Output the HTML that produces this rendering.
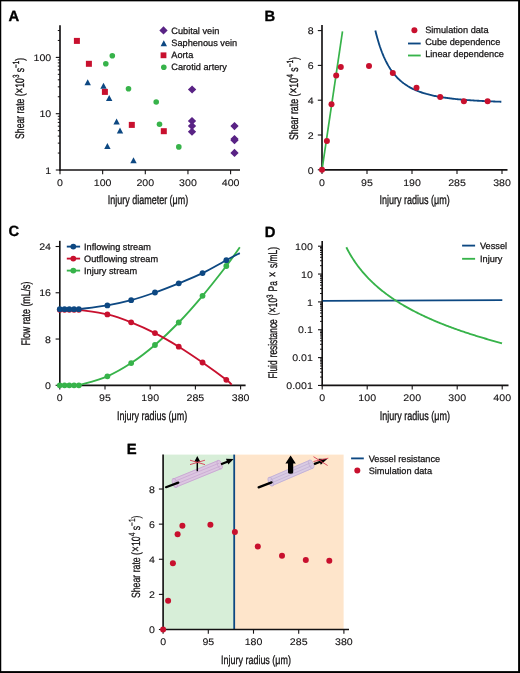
<!DOCTYPE html>
<html><head><meta charset="utf-8"><style>
html,body{margin:0;padding:0;background:#fff;}
svg{display:block;will-change:transform;text-rendering:geometricPrecision;font-family:"Liberation Sans",sans-serif;}
</style></head><body>
<svg width="520" height="673" viewBox="0 0 520 673">
<rect width="520" height="673" fill="#fff"/>
<text x="8.40" y="20.70" font-size="14.8" font-weight="bold" fill="#000" stroke="#000" stroke-width="0.35">A</text>
<line x1="60.00" y1="25.20" x2="60.00" y2="170.70" stroke="#141213" stroke-width="1.65" stroke-linecap="butt"/>
<line x1="59.30" y1="170.00" x2="240.00" y2="170.00" stroke="#141213" stroke-width="1.65" stroke-linecap="butt"/>
<line x1="55.80" y1="170.00" x2="60.00" y2="170.00" stroke="#141213" stroke-width="1.1" stroke-linecap="butt"/>
<text transform="translate(51.20,173.70) scale(1.115,1)" x="0" y="0" font-size="9.5" text-anchor="end" fill="#141213" stroke="#141213" stroke-width="0.1">1</text>
<line x1="55.80" y1="113.70" x2="60.00" y2="113.70" stroke="#141213" stroke-width="1.1" stroke-linecap="butt"/>
<text transform="translate(51.20,117.40) scale(1.115,1)" x="0" y="0" font-size="9.5" text-anchor="end" fill="#141213" stroke="#141213" stroke-width="0.1">10</text>
<line x1="55.80" y1="57.40" x2="60.00" y2="57.40" stroke="#141213" stroke-width="1.1" stroke-linecap="butt"/>
<text transform="translate(51.20,61.10) scale(1.115,1)" x="0" y="0" font-size="9.5" text-anchor="end" fill="#141213" stroke="#141213" stroke-width="0.1">100</text>
<line x1="57.80" y1="153.05" x2="60.00" y2="153.05" stroke="#141213" stroke-width="1.0" stroke-linecap="butt"/>
<line x1="57.80" y1="143.14" x2="60.00" y2="143.14" stroke="#141213" stroke-width="1.0" stroke-linecap="butt"/>
<line x1="57.80" y1="136.10" x2="60.00" y2="136.10" stroke="#141213" stroke-width="1.0" stroke-linecap="butt"/>
<line x1="57.80" y1="130.65" x2="60.00" y2="130.65" stroke="#141213" stroke-width="1.0" stroke-linecap="butt"/>
<line x1="57.80" y1="126.19" x2="60.00" y2="126.19" stroke="#141213" stroke-width="1.0" stroke-linecap="butt"/>
<line x1="57.80" y1="122.42" x2="60.00" y2="122.42" stroke="#141213" stroke-width="1.0" stroke-linecap="butt"/>
<line x1="57.80" y1="119.16" x2="60.00" y2="119.16" stroke="#141213" stroke-width="1.0" stroke-linecap="butt"/>
<line x1="57.80" y1="116.28" x2="60.00" y2="116.28" stroke="#141213" stroke-width="1.0" stroke-linecap="butt"/>
<line x1="57.80" y1="96.75" x2="60.00" y2="96.75" stroke="#141213" stroke-width="1.0" stroke-linecap="butt"/>
<line x1="57.80" y1="86.84" x2="60.00" y2="86.84" stroke="#141213" stroke-width="1.0" stroke-linecap="butt"/>
<line x1="57.80" y1="79.80" x2="60.00" y2="79.80" stroke="#141213" stroke-width="1.0" stroke-linecap="butt"/>
<line x1="57.80" y1="74.35" x2="60.00" y2="74.35" stroke="#141213" stroke-width="1.0" stroke-linecap="butt"/>
<line x1="57.80" y1="69.89" x2="60.00" y2="69.89" stroke="#141213" stroke-width="1.0" stroke-linecap="butt"/>
<line x1="57.80" y1="66.12" x2="60.00" y2="66.12" stroke="#141213" stroke-width="1.0" stroke-linecap="butt"/>
<line x1="57.80" y1="62.86" x2="60.00" y2="62.86" stroke="#141213" stroke-width="1.0" stroke-linecap="butt"/>
<line x1="57.80" y1="59.98" x2="60.00" y2="59.98" stroke="#141213" stroke-width="1.0" stroke-linecap="butt"/>
<line x1="57.80" y1="40.45" x2="60.00" y2="40.45" stroke="#141213" stroke-width="1.0" stroke-linecap="butt"/>
<line x1="57.80" y1="30.54" x2="60.00" y2="30.54" stroke="#141213" stroke-width="1.0" stroke-linecap="butt"/>
<line x1="60.00" y1="170.00" x2="60.00" y2="174.20" stroke="#141213" stroke-width="1.1" stroke-linecap="butt"/>
<text transform="translate(60.00,185.90) scale(1.115,1)" x="0" y="0" font-size="9.5" text-anchor="middle" fill="#141213" stroke="#141213" stroke-width="0.1">0</text>
<line x1="102.65" y1="170.00" x2="102.65" y2="174.20" stroke="#141213" stroke-width="1.1" stroke-linecap="butt"/>
<text transform="translate(102.65,185.90) scale(1.115,1)" x="0" y="0" font-size="9.5" text-anchor="middle" fill="#141213" stroke="#141213" stroke-width="0.1">100</text>
<line x1="145.30" y1="170.00" x2="145.30" y2="174.20" stroke="#141213" stroke-width="1.1" stroke-linecap="butt"/>
<text transform="translate(145.30,185.90) scale(1.115,1)" x="0" y="0" font-size="9.5" text-anchor="middle" fill="#141213" stroke="#141213" stroke-width="0.1">200</text>
<line x1="187.95" y1="170.00" x2="187.95" y2="174.20" stroke="#141213" stroke-width="1.1" stroke-linecap="butt"/>
<text transform="translate(187.95,185.90) scale(1.115,1)" x="0" y="0" font-size="9.5" text-anchor="middle" fill="#141213" stroke="#141213" stroke-width="0.1">300</text>
<line x1="230.60" y1="170.00" x2="230.60" y2="174.20" stroke="#141213" stroke-width="1.1" stroke-linecap="butt"/>
<text transform="translate(230.60,185.90) scale(1.115,1)" x="0" y="0" font-size="9.5" text-anchor="middle" fill="#141213" stroke="#141213" stroke-width="0.1">400</text>
<text x="148.00" y="203.80" font-size="12.4" text-anchor="middle" fill="#141213" stroke="#141213" stroke-width="0.32" textLength="80.5" lengthAdjust="spacingAndGlyphs">Injury diameter (μm)</text>
<text transform="translate(24.00,98.40) rotate(-90)" x="0" y="0" font-size="12.4" text-anchor="middle" fill="#141213" stroke="#141213" stroke-width="0.32" textLength="81" lengthAdjust="spacingAndGlyphs">Shear rate (<tspan font-size="14">×</tspan>10<tspan dy="-4.6" font-size="9">3</tspan><tspan dy="4.6"> s</tspan><tspan dy="-4.6" font-size="9">−1</tspan><tspan dy="4.6">)</tspan></text>
<path d="M192.10,85.45 L196.25,89.50 L192.10,93.55 L187.95,89.50 Z" fill="#592385"/>
<path d="M192.00,116.95 L196.15,121.00 L192.00,125.05 L187.85,121.00 Z" fill="#592385"/>
<path d="M192.00,121.95 L196.15,126.00 L192.00,130.05 L187.85,126.00 Z" fill="#592385"/>
<path d="M192.00,127.75 L196.15,131.80 L192.00,135.85 L187.85,131.80 Z" fill="#592385"/>
<path d="M234.50,122.05 L238.65,126.10 L234.50,130.15 L230.35,126.10 Z" fill="#592385"/>
<path d="M234.50,134.95 L238.65,139.00 L234.50,143.05 L230.35,139.00 Z" fill="#592385"/>
<path d="M234.50,136.15 L238.65,140.20 L234.50,144.25 L230.35,140.20 Z" fill="#592385"/>
<path d="M234.50,148.85 L238.65,152.90 L234.50,156.95 L230.35,152.90 Z" fill="#592385"/>
<path d="M87.70,79.20 L90.90,85.20 L84.50,85.20 Z" fill="#0d4882"/>
<path d="M103.50,82.70 L106.70,88.70 L100.30,88.70 Z" fill="#0d4882"/>
<path d="M109.20,95.10 L112.40,101.10 L106.00,101.10 Z" fill="#0d4882"/>
<path d="M116.60,118.50 L119.80,124.50 L113.40,124.50 Z" fill="#0d4882"/>
<path d="M120.00,127.40 L123.20,133.40 L116.80,133.40 Z" fill="#0d4882"/>
<path d="M107.40,143.10 L110.60,149.10 L104.20,149.10 Z" fill="#0d4882"/>
<path d="M133.50,157.30 L136.70,163.30 L130.30,163.30 Z" fill="#0d4882"/>
<rect x="73.90" y="37.90" width="6" height="6" fill="#c8102e"/>
<rect x="85.90" y="60.80" width="6" height="6" fill="#c8102e"/>
<rect x="101.90" y="88.90" width="6" height="6" fill="#c8102e"/>
<rect x="128.80" y="121.90" width="6" height="6" fill="#c8102e"/>
<rect x="160.80" y="128.20" width="6" height="6" fill="#c8102e"/>
<circle cx="112.30" cy="55.80" r="2.8" fill="#37b34a"/>
<circle cx="105.80" cy="63.80" r="2.8" fill="#37b34a"/>
<circle cx="128.50" cy="88.80" r="2.8" fill="#37b34a"/>
<circle cx="156.20" cy="102.00" r="2.8" fill="#37b34a"/>
<circle cx="159.50" cy="124.20" r="2.8" fill="#37b34a"/>
<circle cx="178.80" cy="146.90" r="2.8" fill="#37b34a"/>
<path d="M163.50,26.35 L167.65,30.40 L163.50,34.45 L159.35,30.40 Z" fill="#592385"/>
<path d="M163.80,40.20 L167.00,46.20 L160.60,46.20 Z" fill="#0d4882"/>
<rect x="160.60" y="52.40" width="5.8" height="5.8" fill="#c8102e"/>
<circle cx="163.80" cy="67.30" r="2.8" fill="#37b34a"/>
<text x="171.30" y="33.80" font-size="9.2" text-anchor="start" fill="#141213" font-weight="normal" stroke="#141213" stroke-width="0.25">Cubital vein</text>
<text x="171.30" y="45.80" font-size="9.2" text-anchor="start" fill="#141213" font-weight="normal" stroke="#141213" stroke-width="0.25">Saphenous vein</text>
<text x="171.30" y="57.80" font-size="9.2" text-anchor="start" fill="#141213" font-weight="normal" stroke="#141213" stroke-width="0.25">Aorta</text>
<text x="171.30" y="69.80" font-size="9.2" text-anchor="start" fill="#141213" font-weight="normal" stroke="#141213" stroke-width="0.25">Carotid artery</text>
<text x="264.60" y="20.90" font-size="14.8" font-weight="bold" fill="#000" stroke="#000" stroke-width="0.35">B</text>
<line x1="322.00" y1="25.00" x2="322.00" y2="170.50" stroke="#141213" stroke-width="1.65" stroke-linecap="butt"/>
<line x1="321.30" y1="169.80" x2="507.50" y2="169.80" stroke="#141213" stroke-width="1.65" stroke-linecap="butt"/>
<line x1="317.80" y1="169.80" x2="322.00" y2="169.80" stroke="#141213" stroke-width="1.1" stroke-linecap="butt"/>
<text transform="translate(313.60,173.50) scale(1.115,1)" x="0" y="0" font-size="9.5" text-anchor="end" fill="#141213" stroke="#141213" stroke-width="0.1">0</text>
<line x1="317.80" y1="135.00" x2="322.00" y2="135.00" stroke="#141213" stroke-width="1.1" stroke-linecap="butt"/>
<text transform="translate(313.60,138.70) scale(1.115,1)" x="0" y="0" font-size="9.5" text-anchor="end" fill="#141213" stroke="#141213" stroke-width="0.1">2</text>
<line x1="317.80" y1="100.20" x2="322.00" y2="100.20" stroke="#141213" stroke-width="1.1" stroke-linecap="butt"/>
<text transform="translate(313.60,103.90) scale(1.115,1)" x="0" y="0" font-size="9.5" text-anchor="end" fill="#141213" stroke="#141213" stroke-width="0.1">4</text>
<line x1="317.80" y1="65.40" x2="322.00" y2="65.40" stroke="#141213" stroke-width="1.1" stroke-linecap="butt"/>
<text transform="translate(313.60,69.10) scale(1.115,1)" x="0" y="0" font-size="9.5" text-anchor="end" fill="#141213" stroke="#141213" stroke-width="0.1">6</text>
<line x1="317.80" y1="30.60" x2="322.00" y2="30.60" stroke="#141213" stroke-width="1.1" stroke-linecap="butt"/>
<text transform="translate(313.60,34.30) scale(1.115,1)" x="0" y="0" font-size="9.5" text-anchor="end" fill="#141213" stroke="#141213" stroke-width="0.1">8</text>
<line x1="322.00" y1="169.80" x2="322.00" y2="174.00" stroke="#141213" stroke-width="1.1" stroke-linecap="butt"/>
<text transform="translate(322.00,185.70) scale(1.115,1)" x="0" y="0" font-size="9.5" text-anchor="middle" fill="#141213" stroke="#141213" stroke-width="0.1">0</text>
<line x1="367.00" y1="169.80" x2="367.00" y2="174.00" stroke="#141213" stroke-width="1.1" stroke-linecap="butt"/>
<text transform="translate(367.00,185.70) scale(1.115,1)" x="0" y="0" font-size="9.5" text-anchor="middle" fill="#141213" stroke="#141213" stroke-width="0.1">95</text>
<line x1="412.00" y1="169.80" x2="412.00" y2="174.00" stroke="#141213" stroke-width="1.1" stroke-linecap="butt"/>
<text transform="translate(412.00,185.70) scale(1.115,1)" x="0" y="0" font-size="9.5" text-anchor="middle" fill="#141213" stroke="#141213" stroke-width="0.1">190</text>
<line x1="457.00" y1="169.80" x2="457.00" y2="174.00" stroke="#141213" stroke-width="1.1" stroke-linecap="butt"/>
<text transform="translate(457.00,185.70) scale(1.115,1)" x="0" y="0" font-size="9.5" text-anchor="middle" fill="#141213" stroke="#141213" stroke-width="0.1">285</text>
<line x1="502.00" y1="169.80" x2="502.00" y2="174.00" stroke="#141213" stroke-width="1.1" stroke-linecap="butt"/>
<text transform="translate(502.00,185.70) scale(1.115,1)" x="0" y="0" font-size="9.5" text-anchor="middle" fill="#141213" stroke="#141213" stroke-width="0.1">380</text>
<text x="414.60" y="204.00" font-size="12.4" text-anchor="middle" fill="#141213" stroke="#141213" stroke-width="0.32" textLength="70.3" lengthAdjust="spacingAndGlyphs">Injury radius (μm)</text>
<text transform="translate(298.00,98.60) rotate(-90)" x="0" y="0" font-size="12.4" text-anchor="middle" fill="#141213" stroke="#141213" stroke-width="0.32" textLength="83" lengthAdjust="spacingAndGlyphs">Shear rate (<tspan font-size="14">×</tspan>10<tspan dy="-4.6" font-size="9">4</tspan><tspan dy="4.6"> s</tspan><tspan dy="-4.6" font-size="9">−1</tspan><tspan dy="4.6">)</tspan></text>
<line x1="322.00" y1="169.80" x2="342.50" y2="31.30" stroke="#37b34a" stroke-width="1.7" stroke-linecap="butt"/>
<path d="M375.34,30.55 L376.28,34.31 L377.23,37.82 L378.18,41.10 L379.13,44.16 L380.07,47.03 L381.02,49.71 L381.97,52.23 L382.92,54.59 L383.86,56.81 L384.81,58.90 L385.76,60.87 L386.71,62.72 L387.65,64.47 L388.60,66.12 L389.55,67.68 L390.49,69.15 L391.44,70.54 L392.39,71.86 L393.34,73.11 L394.28,74.30 L395.23,75.43 L396.18,76.50 L397.13,77.51 L398.07,78.48 L399.02,79.39 L399.97,80.27 L400.92,81.10 L401.86,81.90 L402.81,82.65 L403.76,83.38 L404.71,84.07 L405.65,84.72 L406.60,85.35 L407.55,85.96 L408.49,86.53 L409.44,87.08 L410.39,87.61 L411.34,88.12 L412.28,88.60 L413.23,89.07 L414.18,89.51 L415.13,89.94 L416.07,90.35 L417.02,90.75 L417.97,91.13 L418.92,91.49 L419.86,91.84 L420.81,92.18 L421.76,92.50 L422.71,92.82 L423.65,93.12 L424.60,93.41 L425.55,93.69 L426.49,93.96 L427.44,94.21 L428.39,94.47 L429.34,94.71 L430.28,94.94 L431.23,95.17 L432.18,95.38 L433.13,95.59 L434.07,95.80 L435.02,95.99 L435.97,96.18 L436.92,96.37 L437.86,96.55 L438.81,96.72 L439.76,96.88 L440.71,97.05 L441.65,97.20 L442.60,97.35 L443.55,97.50 L444.49,97.64 L445.44,97.78 L446.39,97.91 L447.34,98.04 L448.28,98.17 L449.23,98.29 L450.18,98.41 L451.13,98.53 L452.07,98.64 L453.02,98.75 L453.97,98.85 L454.92,98.95 L455.86,99.05 L456.81,99.15 L457.76,99.25 L458.71,99.34 L459.65,99.43 L460.60,99.51 L461.55,99.60 L462.49,99.68 L463.44,99.76 L464.39,99.84 L465.34,99.91 L466.28,99.99 L467.23,100.06 L468.18,100.13 L469.13,100.20 L470.07,100.26 L471.02,100.33 L471.97,100.39 L472.92,100.45 L473.86,100.51 L474.81,100.57 L475.76,100.63 L476.71,100.68 L477.65,100.74 L478.60,100.79 L479.55,100.84 L480.49,100.89 L481.44,100.94 L482.39,100.99 L483.34,101.04 L484.28,101.08 L485.23,101.13 L486.18,101.17 L487.13,101.22 L488.07,101.26 L489.02,101.30 L489.97,101.34 L490.92,101.38 L491.86,101.42 L492.81,101.45 L493.76,101.49 L494.71,101.53 L495.65,101.56 L496.60,101.60 L497.55,101.63 L498.49,101.66 L499.44,101.69 L500.39,101.73 L501.34,101.76" fill="none" stroke="#0d4882" stroke-width="1.85"/>
<circle cx="322.00" cy="169.80" r="3.0" fill="#c8102e"/>
<circle cx="326.90" cy="141.10" r="3.0" fill="#c8102e"/>
<circle cx="331.50" cy="104.20" r="3.0" fill="#c8102e"/>
<circle cx="336.20" cy="75.40" r="3.0" fill="#c8102e"/>
<circle cx="340.80" cy="66.90" r="3.0" fill="#c8102e"/>
<circle cx="369.00" cy="66.10" r="3.0" fill="#c8102e"/>
<circle cx="392.80" cy="73.10" r="3.0" fill="#c8102e"/>
<circle cx="416.50" cy="87.80" r="3.0" fill="#c8102e"/>
<circle cx="440.20" cy="96.90" r="3.0" fill="#c8102e"/>
<circle cx="463.90" cy="101.20" r="3.0" fill="#c8102e"/>
<circle cx="487.60" cy="101.20" r="3.0" fill="#c8102e"/>
<circle cx="414.40" cy="30.20" r="3.0" fill="#c8102e"/>
<line x1="408.00" y1="43.50" x2="420.70" y2="43.50" stroke="#0d4882" stroke-width="1.85" stroke-linecap="butt"/>
<line x1="408.00" y1="55.50" x2="420.70" y2="55.50" stroke="#37b34a" stroke-width="1.85" stroke-linecap="butt"/>
<text x="425.20" y="33.40" font-size="9.2" text-anchor="start" fill="#141213" font-weight="normal" stroke="#141213" stroke-width="0.25">Simulation data</text>
<text x="425.20" y="45.40" font-size="9.2" text-anchor="start" fill="#141213" font-weight="normal" stroke="#141213" stroke-width="0.25">Cube dependence</text>
<text x="425.20" y="57.40" font-size="9.2" text-anchor="start" fill="#141213" font-weight="normal" stroke="#141213" stroke-width="0.25">Linear dependence</text>
<text x="8.60" y="236.30" font-size="14.8" font-weight="bold" fill="#000" stroke="#000" stroke-width="0.35">C</text>
<line x1="59.80" y1="240.80" x2="59.80" y2="386.00" stroke="#141213" stroke-width="1.65" stroke-linecap="butt"/>
<line x1="59.10" y1="385.30" x2="245.60" y2="385.30" stroke="#141213" stroke-width="1.65" stroke-linecap="butt"/>
<line x1="55.60" y1="385.30" x2="59.80" y2="385.30" stroke="#141213" stroke-width="1.1" stroke-linecap="butt"/>
<text transform="translate(51.00,389.00) scale(1.115,1)" x="0" y="0" font-size="9.5" text-anchor="end" fill="#141213" stroke="#141213" stroke-width="0.1">0</text>
<line x1="55.60" y1="339.04" x2="59.80" y2="339.04" stroke="#141213" stroke-width="1.1" stroke-linecap="butt"/>
<text transform="translate(51.00,342.74) scale(1.115,1)" x="0" y="0" font-size="9.5" text-anchor="end" fill="#141213" stroke="#141213" stroke-width="0.1">8</text>
<line x1="55.60" y1="292.77" x2="59.80" y2="292.77" stroke="#141213" stroke-width="1.1" stroke-linecap="butt"/>
<text transform="translate(51.00,296.47) scale(1.115,1)" x="0" y="0" font-size="9.5" text-anchor="end" fill="#141213" stroke="#141213" stroke-width="0.1">16</text>
<line x1="55.60" y1="246.51" x2="59.80" y2="246.51" stroke="#141213" stroke-width="1.1" stroke-linecap="butt"/>
<text transform="translate(51.00,250.21) scale(1.115,1)" x="0" y="0" font-size="9.5" text-anchor="end" fill="#141213" stroke="#141213" stroke-width="0.1">24</text>
<line x1="59.80" y1="385.30" x2="59.80" y2="389.50" stroke="#141213" stroke-width="1.1" stroke-linecap="butt"/>
<text transform="translate(59.80,401.20) scale(1.115,1)" x="0" y="0" font-size="9.5" text-anchor="middle" fill="#141213" stroke="#141213" stroke-width="0.1">0</text>
<line x1="105.00" y1="385.30" x2="105.00" y2="389.50" stroke="#141213" stroke-width="1.1" stroke-linecap="butt"/>
<text transform="translate(105.00,401.20) scale(1.115,1)" x="0" y="0" font-size="9.5" text-anchor="middle" fill="#141213" stroke="#141213" stroke-width="0.1">95</text>
<line x1="150.20" y1="385.30" x2="150.20" y2="389.50" stroke="#141213" stroke-width="1.1" stroke-linecap="butt"/>
<text transform="translate(150.20,401.20) scale(1.115,1)" x="0" y="0" font-size="9.5" text-anchor="middle" fill="#141213" stroke="#141213" stroke-width="0.1">190</text>
<line x1="195.40" y1="385.30" x2="195.40" y2="389.50" stroke="#141213" stroke-width="1.1" stroke-linecap="butt"/>
<text transform="translate(195.40,401.20) scale(1.115,1)" x="0" y="0" font-size="9.5" text-anchor="middle" fill="#141213" stroke="#141213" stroke-width="0.1">285</text>
<line x1="240.60" y1="385.30" x2="240.60" y2="389.50" stroke="#141213" stroke-width="1.1" stroke-linecap="butt"/>
<text transform="translate(240.60,401.20) scale(1.115,1)" x="0" y="0" font-size="9.5" text-anchor="middle" fill="#141213" stroke="#141213" stroke-width="0.1">380</text>
<text x="152.10" y="420.00" font-size="12.4" text-anchor="middle" fill="#141213" stroke="#141213" stroke-width="0.32" textLength="70.3" lengthAdjust="spacingAndGlyphs">Injury radius (μm)</text>
<text transform="translate(29.80,313.50) rotate(-90)" x="0" y="0" font-size="12.4" text-anchor="middle" fill="#141213" stroke="#141213" stroke-width="0.32" textLength="64" lengthAdjust="spacingAndGlyphs">Flow rate (mL/s)</text>
<path d="M59.80,385.30 L64.56,385.30 L69.32,385.30 L74.07,385.30 L78.83,385.30 L78.83,385.30 C83.59,383.80 98.66,380.00 107.38,376.30 C116.10,372.60 123.24,368.32 131.17,363.10 C139.10,357.88 147.03,351.77 154.96,345.00 C162.89,338.23 170.82,330.70 178.75,322.50 C186.68,314.30 194.61,305.22 202.54,295.80 C210.47,286.38 220.12,274.08 226.33,266.00 C232.54,257.92 237.56,250.42 239.80,247.30" fill="none" stroke="#37b34a" stroke-width="1.85"/>
<path d="M59.80,309.80 L64.56,309.80 L69.32,309.80 L74.07,309.80 L78.83,309.80 L78.83,309.80 C83.59,310.57 98.66,312.32 107.38,314.40 C116.10,316.48 123.24,319.18 131.17,322.30 C139.10,325.42 147.03,329.03 154.96,333.10 C162.89,337.17 170.82,341.80 178.75,346.70 C186.68,351.60 194.61,356.98 202.54,362.50 C210.47,368.02 221.47,376.08 226.33,379.80 C231.19,383.52 230.80,383.97 231.70,384.80" fill="none" stroke="#c8102e" stroke-width="1.85"/>
<path d="M59.80,309.20 L64.56,309.20 L69.32,309.20 L74.07,309.20 L78.83,309.20 L78.83,309.20 C83.59,308.57 98.66,306.90 107.38,305.40 C116.10,303.90 123.24,302.35 131.17,300.20 C139.10,298.05 147.03,295.32 154.96,292.50 C162.89,289.68 170.82,286.53 178.75,283.30 C186.68,280.07 194.61,276.95 202.54,273.10 C210.47,269.25 220.12,263.53 226.33,260.20 C232.54,256.87 237.56,254.28 239.80,253.10" fill="none" stroke="#0d4882" stroke-width="1.85"/>
<circle cx="59.80" cy="385.30" r="2.9" fill="#37b34a"/>
<circle cx="64.56" cy="385.30" r="2.9" fill="#37b34a"/>
<circle cx="69.32" cy="385.30" r="2.9" fill="#37b34a"/>
<circle cx="74.07" cy="385.30" r="2.9" fill="#37b34a"/>
<circle cx="78.83" cy="385.30" r="2.9" fill="#37b34a"/>
<circle cx="107.38" cy="376.30" r="2.9" fill="#37b34a"/>
<circle cx="131.17" cy="363.10" r="2.9" fill="#37b34a"/>
<circle cx="154.96" cy="345.00" r="2.9" fill="#37b34a"/>
<circle cx="178.75" cy="322.50" r="2.9" fill="#37b34a"/>
<circle cx="202.54" cy="295.80" r="2.9" fill="#37b34a"/>
<circle cx="226.33" cy="266.00" r="2.9" fill="#37b34a"/>
<circle cx="59.80" cy="309.80" r="2.9" fill="#c8102e"/>
<circle cx="64.56" cy="309.80" r="2.9" fill="#c8102e"/>
<circle cx="69.32" cy="309.80" r="2.9" fill="#c8102e"/>
<circle cx="74.07" cy="309.80" r="2.9" fill="#c8102e"/>
<circle cx="78.83" cy="309.80" r="2.9" fill="#c8102e"/>
<circle cx="107.38" cy="314.40" r="2.9" fill="#c8102e"/>
<circle cx="131.17" cy="322.30" r="2.9" fill="#c8102e"/>
<circle cx="154.96" cy="333.10" r="2.9" fill="#c8102e"/>
<circle cx="178.75" cy="346.70" r="2.9" fill="#c8102e"/>
<circle cx="202.54" cy="362.50" r="2.9" fill="#c8102e"/>
<circle cx="226.33" cy="379.80" r="2.9" fill="#c8102e"/>
<circle cx="59.80" cy="309.20" r="2.9" fill="#0d4882"/>
<circle cx="64.56" cy="309.20" r="2.9" fill="#0d4882"/>
<circle cx="69.32" cy="309.20" r="2.9" fill="#0d4882"/>
<circle cx="74.07" cy="309.20" r="2.9" fill="#0d4882"/>
<circle cx="78.83" cy="309.20" r="2.9" fill="#0d4882"/>
<circle cx="107.38" cy="305.40" r="2.9" fill="#0d4882"/>
<circle cx="131.17" cy="300.20" r="2.9" fill="#0d4882"/>
<circle cx="154.96" cy="292.50" r="2.9" fill="#0d4882"/>
<circle cx="178.75" cy="283.30" r="2.9" fill="#0d4882"/>
<circle cx="202.54" cy="273.10" r="2.9" fill="#0d4882"/>
<circle cx="226.33" cy="260.20" r="2.9" fill="#0d4882"/>
<line x1="66.80" y1="246.60" x2="80.10" y2="246.60" stroke="#0d4882" stroke-width="1.85" stroke-linecap="butt"/>
<circle cx="73.30" cy="246.60" r="2.9" fill="#0d4882"/>
<line x1="66.80" y1="258.60" x2="80.10" y2="258.60" stroke="#c8102e" stroke-width="1.85" stroke-linecap="butt"/>
<circle cx="73.30" cy="258.60" r="2.9" fill="#c8102e"/>
<line x1="66.80" y1="270.60" x2="80.10" y2="270.60" stroke="#37b34a" stroke-width="1.85" stroke-linecap="butt"/>
<circle cx="73.30" cy="270.60" r="2.9" fill="#37b34a"/>
<text x="84.00" y="249.80" font-size="9.2" text-anchor="start" fill="#141213" font-weight="normal" stroke="#141213" stroke-width="0.25">Inflowing stream</text>
<text x="84.00" y="261.80" font-size="9.2" text-anchor="start" fill="#141213" font-weight="normal" stroke="#141213" stroke-width="0.25">Outflowing stream</text>
<text x="84.00" y="273.80" font-size="9.2" text-anchor="start" fill="#141213" font-weight="normal" stroke="#141213" stroke-width="0.25">Injury stream</text>
<text x="264.70" y="236.50" font-size="14.8" font-weight="bold" fill="#000" stroke="#000" stroke-width="0.35">D</text>
<line x1="322.20" y1="241.00" x2="322.20" y2="386.10" stroke="#141213" stroke-width="1.65" stroke-linecap="butt"/>
<line x1="321.50" y1="385.40" x2="508.50" y2="385.40" stroke="#141213" stroke-width="1.65" stroke-linecap="butt"/>
<line x1="318.00" y1="246.20" x2="322.20" y2="246.20" stroke="#141213" stroke-width="1.1" stroke-linecap="butt"/>
<text transform="translate(312.80,249.90) scale(1.115,1)" x="0" y="0" font-size="9.5" text-anchor="end" fill="#141213" stroke="#141213" stroke-width="0.1">100</text>
<line x1="318.00" y1="274.05" x2="322.20" y2="274.05" stroke="#141213" stroke-width="1.1" stroke-linecap="butt"/>
<text transform="translate(312.80,277.75) scale(1.115,1)" x="0" y="0" font-size="9.5" text-anchor="end" fill="#141213" stroke="#141213" stroke-width="0.1">10</text>
<line x1="318.00" y1="301.90" x2="322.20" y2="301.90" stroke="#141213" stroke-width="1.1" stroke-linecap="butt"/>
<text transform="translate(312.80,305.60) scale(1.115,1)" x="0" y="0" font-size="9.5" text-anchor="end" fill="#141213" stroke="#141213" stroke-width="0.1">1</text>
<line x1="318.00" y1="329.75" x2="322.20" y2="329.75" stroke="#141213" stroke-width="1.1" stroke-linecap="butt"/>
<text transform="translate(312.80,333.45) scale(1.115,1)" x="0" y="0" font-size="9.5" text-anchor="end" fill="#141213" stroke="#141213" stroke-width="0.1">0.1</text>
<line x1="318.00" y1="357.60" x2="322.20" y2="357.60" stroke="#141213" stroke-width="1.1" stroke-linecap="butt"/>
<text transform="translate(312.80,361.30) scale(1.115,1)" x="0" y="0" font-size="9.5" text-anchor="end" fill="#141213" stroke="#141213" stroke-width="0.1">0.01</text>
<line x1="318.00" y1="385.45" x2="322.20" y2="385.45" stroke="#141213" stroke-width="1.1" stroke-linecap="butt"/>
<text transform="translate(312.80,389.15) scale(1.115,1)" x="0" y="0" font-size="9.5" text-anchor="end" fill="#141213" stroke="#141213" stroke-width="0.1">0.001</text>
<line x1="320.00" y1="377.07" x2="322.20" y2="377.07" stroke="#141213" stroke-width="1.0" stroke-linecap="butt"/>
<line x1="320.00" y1="372.16" x2="322.20" y2="372.16" stroke="#141213" stroke-width="1.0" stroke-linecap="butt"/>
<line x1="320.00" y1="368.68" x2="322.20" y2="368.68" stroke="#141213" stroke-width="1.0" stroke-linecap="butt"/>
<line x1="320.00" y1="365.98" x2="322.20" y2="365.98" stroke="#141213" stroke-width="1.0" stroke-linecap="butt"/>
<line x1="320.00" y1="363.78" x2="322.20" y2="363.78" stroke="#141213" stroke-width="1.0" stroke-linecap="butt"/>
<line x1="320.00" y1="361.91" x2="322.20" y2="361.91" stroke="#141213" stroke-width="1.0" stroke-linecap="butt"/>
<line x1="320.00" y1="360.30" x2="322.20" y2="360.30" stroke="#141213" stroke-width="1.0" stroke-linecap="butt"/>
<line x1="320.00" y1="358.87" x2="322.20" y2="358.87" stroke="#141213" stroke-width="1.0" stroke-linecap="butt"/>
<line x1="320.00" y1="349.22" x2="322.20" y2="349.22" stroke="#141213" stroke-width="1.0" stroke-linecap="butt"/>
<line x1="320.00" y1="344.31" x2="322.20" y2="344.31" stroke="#141213" stroke-width="1.0" stroke-linecap="butt"/>
<line x1="320.00" y1="340.83" x2="322.20" y2="340.83" stroke="#141213" stroke-width="1.0" stroke-linecap="butt"/>
<line x1="320.00" y1="338.13" x2="322.20" y2="338.13" stroke="#141213" stroke-width="1.0" stroke-linecap="butt"/>
<line x1="320.00" y1="335.93" x2="322.20" y2="335.93" stroke="#141213" stroke-width="1.0" stroke-linecap="butt"/>
<line x1="320.00" y1="334.06" x2="322.20" y2="334.06" stroke="#141213" stroke-width="1.0" stroke-linecap="butt"/>
<line x1="320.00" y1="332.45" x2="322.20" y2="332.45" stroke="#141213" stroke-width="1.0" stroke-linecap="butt"/>
<line x1="320.00" y1="331.02" x2="322.20" y2="331.02" stroke="#141213" stroke-width="1.0" stroke-linecap="butt"/>
<line x1="320.00" y1="321.37" x2="322.20" y2="321.37" stroke="#141213" stroke-width="1.0" stroke-linecap="butt"/>
<line x1="320.00" y1="316.46" x2="322.20" y2="316.46" stroke="#141213" stroke-width="1.0" stroke-linecap="butt"/>
<line x1="320.00" y1="312.98" x2="322.20" y2="312.98" stroke="#141213" stroke-width="1.0" stroke-linecap="butt"/>
<line x1="320.00" y1="310.28" x2="322.20" y2="310.28" stroke="#141213" stroke-width="1.0" stroke-linecap="butt"/>
<line x1="320.00" y1="308.08" x2="322.20" y2="308.08" stroke="#141213" stroke-width="1.0" stroke-linecap="butt"/>
<line x1="320.00" y1="306.21" x2="322.20" y2="306.21" stroke="#141213" stroke-width="1.0" stroke-linecap="butt"/>
<line x1="320.00" y1="304.60" x2="322.20" y2="304.60" stroke="#141213" stroke-width="1.0" stroke-linecap="butt"/>
<line x1="320.00" y1="303.17" x2="322.20" y2="303.17" stroke="#141213" stroke-width="1.0" stroke-linecap="butt"/>
<line x1="320.00" y1="293.52" x2="322.20" y2="293.52" stroke="#141213" stroke-width="1.0" stroke-linecap="butt"/>
<line x1="320.00" y1="288.61" x2="322.20" y2="288.61" stroke="#141213" stroke-width="1.0" stroke-linecap="butt"/>
<line x1="320.00" y1="285.13" x2="322.20" y2="285.13" stroke="#141213" stroke-width="1.0" stroke-linecap="butt"/>
<line x1="320.00" y1="282.43" x2="322.20" y2="282.43" stroke="#141213" stroke-width="1.0" stroke-linecap="butt"/>
<line x1="320.00" y1="280.23" x2="322.20" y2="280.23" stroke="#141213" stroke-width="1.0" stroke-linecap="butt"/>
<line x1="320.00" y1="278.36" x2="322.20" y2="278.36" stroke="#141213" stroke-width="1.0" stroke-linecap="butt"/>
<line x1="320.00" y1="276.75" x2="322.20" y2="276.75" stroke="#141213" stroke-width="1.0" stroke-linecap="butt"/>
<line x1="320.00" y1="275.32" x2="322.20" y2="275.32" stroke="#141213" stroke-width="1.0" stroke-linecap="butt"/>
<line x1="320.00" y1="265.67" x2="322.20" y2="265.67" stroke="#141213" stroke-width="1.0" stroke-linecap="butt"/>
<line x1="320.00" y1="260.76" x2="322.20" y2="260.76" stroke="#141213" stroke-width="1.0" stroke-linecap="butt"/>
<line x1="320.00" y1="257.28" x2="322.20" y2="257.28" stroke="#141213" stroke-width="1.0" stroke-linecap="butt"/>
<line x1="320.00" y1="254.58" x2="322.20" y2="254.58" stroke="#141213" stroke-width="1.0" stroke-linecap="butt"/>
<line x1="320.00" y1="252.38" x2="322.20" y2="252.38" stroke="#141213" stroke-width="1.0" stroke-linecap="butt"/>
<line x1="320.00" y1="250.51" x2="322.20" y2="250.51" stroke="#141213" stroke-width="1.0" stroke-linecap="butt"/>
<line x1="320.00" y1="248.90" x2="322.20" y2="248.90" stroke="#141213" stroke-width="1.0" stroke-linecap="butt"/>
<line x1="320.00" y1="247.47" x2="322.20" y2="247.47" stroke="#141213" stroke-width="1.0" stroke-linecap="butt"/>
<line x1="322.20" y1="385.40" x2="322.20" y2="389.60" stroke="#141213" stroke-width="1.1" stroke-linecap="butt"/>
<text transform="translate(322.20,401.30) scale(1.115,1)" x="0" y="0" font-size="9.5" text-anchor="middle" fill="#141213" stroke="#141213" stroke-width="0.1">0</text>
<line x1="367.20" y1="385.40" x2="367.20" y2="389.60" stroke="#141213" stroke-width="1.1" stroke-linecap="butt"/>
<text transform="translate(367.20,401.30) scale(1.115,1)" x="0" y="0" font-size="9.5" text-anchor="middle" fill="#141213" stroke="#141213" stroke-width="0.1">100</text>
<line x1="412.20" y1="385.40" x2="412.20" y2="389.60" stroke="#141213" stroke-width="1.1" stroke-linecap="butt"/>
<text transform="translate(412.20,401.30) scale(1.115,1)" x="0" y="0" font-size="9.5" text-anchor="middle" fill="#141213" stroke="#141213" stroke-width="0.1">200</text>
<line x1="457.20" y1="385.40" x2="457.20" y2="389.60" stroke="#141213" stroke-width="1.1" stroke-linecap="butt"/>
<text transform="translate(457.20,401.30) scale(1.115,1)" x="0" y="0" font-size="9.5" text-anchor="middle" fill="#141213" stroke="#141213" stroke-width="0.1">300</text>
<line x1="502.20" y1="385.40" x2="502.20" y2="389.60" stroke="#141213" stroke-width="1.1" stroke-linecap="butt"/>
<text transform="translate(502.20,401.30) scale(1.115,1)" x="0" y="0" font-size="9.5" text-anchor="middle" fill="#141213" stroke="#141213" stroke-width="0.1">400</text>
<text x="414.80" y="420.00" font-size="12.4" text-anchor="middle" fill="#141213" stroke="#141213" stroke-width="0.32" textLength="70.3" lengthAdjust="spacingAndGlyphs">Injury radius (μm)</text>
<text transform="translate(277.40,312.80) rotate(-90)" x="0" y="0" font-size="12.4" text-anchor="middle" fill="#141213" stroke="#141213" stroke-width="0.32" textLength="131.5" lengthAdjust="spacingAndGlyphs">Fluid<tspan dx="1"> resistance</tspan><tspan dx="2"> (</tspan><tspan font-size="14">×</tspan>10<tspan dy="-4.6" font-size="9.3">3</tspan><tspan dy="4.6" dx="1"> Pa</tspan><tspan font-size="14" dx="2"> ×</tspan><tspan dx="2"> s/mL)</tspan></text>
<line x1="322.70" y1="300.90" x2="502.30" y2="300.10" stroke="#0d4882" stroke-width="1.85" stroke-linecap="butt"/>
<path d="M346.32,247.29 L347.22,249.04 L348.12,250.72 L349.02,252.36 L349.92,253.93 L350.82,255.46 L351.72,256.94 L352.62,258.37 L353.52,259.77 L354.42,261.12 L355.32,262.44 L356.22,263.72 L357.12,264.96 L358.02,266.18 L358.92,267.37 L359.82,268.52 L360.72,269.65 L361.62,270.76 L362.52,271.83 L363.42,272.89 L364.32,273.92 L365.22,274.93 L366.12,275.92 L367.02,276.89 L367.92,277.84 L368.82,278.77 L369.72,279.68 L370.62,280.58 L371.52,281.46 L372.42,282.32 L373.32,283.17 L374.22,284.01 L375.12,284.83 L376.02,285.63 L376.92,286.42 L377.82,287.20 L378.72,287.97 L379.62,288.72 L380.52,289.47 L381.42,290.20 L382.32,290.92 L383.22,291.63 L384.12,292.33 L385.02,293.02 L385.92,293.70 L386.82,294.37 L387.72,295.03 L388.62,295.68 L389.52,296.32 L390.42,296.96 L391.32,297.58 L392.22,298.20 L393.12,298.81 L394.02,299.42 L394.92,300.01 L395.82,300.60 L396.72,301.18 L397.62,301.75 L398.52,302.32 L399.42,302.88 L400.32,303.43 L401.22,303.98 L402.12,304.52 L403.02,305.06 L403.92,305.58 L404.82,306.11 L405.72,306.63 L406.62,307.14 L407.52,307.64 L408.42,308.15 L409.32,308.64 L410.22,309.13 L411.12,309.62 L412.02,310.10 L412.92,310.58 L413.82,311.05 L414.72,311.51 L415.62,311.98 L416.52,312.44 L417.42,312.89 L418.32,313.34 L419.22,313.78 L420.12,314.23 L421.02,314.66 L421.92,315.10 L422.82,315.52 L423.72,315.95 L424.62,316.37 L425.52,316.79 L426.42,317.20 L427.32,317.61 L428.22,318.02 L429.12,318.43 L430.02,318.83 L430.92,319.22 L431.82,319.62 L432.72,320.01 L433.62,320.40 L434.52,320.78 L435.42,321.16 L436.32,321.54 L437.22,321.91 L438.12,322.29 L439.02,322.66 L439.92,323.02 L440.82,323.39 L441.72,323.75 L442.62,324.11 L443.52,324.46 L444.42,324.82 L445.32,325.17 L446.22,325.51 L447.12,325.86 L448.02,326.20 L448.92,326.54 L449.82,326.88 L450.72,327.22 L451.62,327.55 L452.52,327.88 L453.42,328.21 L454.32,328.54 L455.22,328.86 L456.12,329.18 L457.02,329.50 L457.92,329.82 L458.82,330.14 L459.72,330.45 L460.62,330.76 L461.52,331.07 L462.42,331.38 L463.32,331.69 L464.22,331.99 L465.12,332.29 L466.02,332.59 L466.92,332.89 L467.82,333.18 L468.72,333.48 L469.62,333.77 L470.52,334.06 L471.42,334.35 L472.32,334.64 L473.22,334.92 L474.12,335.21 L475.02,335.49 L475.92,335.77 L476.82,336.05 L477.72,336.33 L478.62,336.60 L479.52,336.88 L480.42,337.15 L481.32,337.42 L482.22,337.69 L483.12,337.96 L484.02,338.22 L484.92,338.49 L485.82,338.75 L486.72,339.01 L487.62,339.28 L488.52,339.53 L489.42,339.79 L490.32,340.05 L491.22,340.30 L492.12,340.56 L493.02,340.81 L493.92,341.06 L494.82,341.31 L495.72,341.56 L496.62,341.81 L497.52,342.05 L498.42,342.30 L499.32,342.54 L500.22,342.78 L501.12,343.02 L502.02,343.26" fill="none" stroke="#37b34a" stroke-width="1.85"/>
<line x1="462.10" y1="245.60" x2="475.10" y2="245.60" stroke="#0d4882" stroke-width="1.85" stroke-linecap="butt"/>
<line x1="462.10" y1="258.80" x2="475.10" y2="258.80" stroke="#37b34a" stroke-width="1.85" stroke-linecap="butt"/>
<text x="480.00" y="249.20" font-size="9.2" text-anchor="start" fill="#141213" font-weight="normal" stroke="#141213" stroke-width="0.25">Vessel</text>
<text x="480.00" y="262.00" font-size="9.2" text-anchor="start" fill="#141213" font-weight="normal" stroke="#141213" stroke-width="0.25">Injury</text>
<text x="126.70" y="453.50" font-size="14.8" font-weight="bold" fill="#000" stroke="#000" stroke-width="0.35">E</text>
<rect x="163.10" y="454.6" width="71.10" height="174.90" fill="#d7eed8"/>
<rect x="234.2" y="454.6" width="109.40" height="174.90" fill="#fee5cb"/>
<line x1="234.20" y1="454.60" x2="234.20" y2="629.50" stroke="#0d4882" stroke-width="1.8" stroke-linecap="butt"/>
<line x1="163.10" y1="454.60" x2="163.10" y2="630.20" stroke="#141213" stroke-width="1.65" stroke-linecap="butt"/>
<line x1="162.40" y1="629.50" x2="349.00" y2="629.50" stroke="#141213" stroke-width="1.65" stroke-linecap="butt"/>
<line x1="158.90" y1="629.50" x2="163.10" y2="629.50" stroke="#141213" stroke-width="1.1" stroke-linecap="butt"/>
<text transform="translate(154.80,633.20) scale(1.115,1)" x="0" y="0" font-size="9.5" text-anchor="end" fill="#141213" stroke="#141213" stroke-width="0.1">0</text>
<line x1="158.90" y1="594.38" x2="163.10" y2="594.38" stroke="#141213" stroke-width="1.1" stroke-linecap="butt"/>
<text transform="translate(154.80,598.08) scale(1.115,1)" x="0" y="0" font-size="9.5" text-anchor="end" fill="#141213" stroke="#141213" stroke-width="0.1">2</text>
<line x1="158.90" y1="559.26" x2="163.10" y2="559.26" stroke="#141213" stroke-width="1.1" stroke-linecap="butt"/>
<text transform="translate(154.80,562.96) scale(1.115,1)" x="0" y="0" font-size="9.5" text-anchor="end" fill="#141213" stroke="#141213" stroke-width="0.1">4</text>
<line x1="158.90" y1="524.14" x2="163.10" y2="524.14" stroke="#141213" stroke-width="1.1" stroke-linecap="butt"/>
<text transform="translate(154.80,527.84) scale(1.115,1)" x="0" y="0" font-size="9.5" text-anchor="end" fill="#141213" stroke="#141213" stroke-width="0.1">6</text>
<line x1="158.90" y1="489.02" x2="163.10" y2="489.02" stroke="#141213" stroke-width="1.1" stroke-linecap="butt"/>
<text transform="translate(154.80,492.72) scale(1.115,1)" x="0" y="0" font-size="9.5" text-anchor="end" fill="#141213" stroke="#141213" stroke-width="0.1">8</text>
<line x1="163.10" y1="629.50" x2="163.10" y2="633.70" stroke="#141213" stroke-width="1.1" stroke-linecap="butt"/>
<text transform="translate(163.10,645.40) scale(1.115,1)" x="0" y="0" font-size="9.5" text-anchor="middle" fill="#141213" stroke="#141213" stroke-width="0.1">0</text>
<line x1="208.30" y1="629.50" x2="208.30" y2="633.70" stroke="#141213" stroke-width="1.1" stroke-linecap="butt"/>
<text transform="translate(208.30,645.40) scale(1.115,1)" x="0" y="0" font-size="9.5" text-anchor="middle" fill="#141213" stroke="#141213" stroke-width="0.1">95</text>
<line x1="253.50" y1="629.50" x2="253.50" y2="633.70" stroke="#141213" stroke-width="1.1" stroke-linecap="butt"/>
<text transform="translate(253.50,645.40) scale(1.115,1)" x="0" y="0" font-size="9.5" text-anchor="middle" fill="#141213" stroke="#141213" stroke-width="0.1">180</text>
<line x1="298.70" y1="629.50" x2="298.70" y2="633.70" stroke="#141213" stroke-width="1.1" stroke-linecap="butt"/>
<text transform="translate(298.70,645.40) scale(1.115,1)" x="0" y="0" font-size="9.5" text-anchor="middle" fill="#141213" stroke="#141213" stroke-width="0.1">285</text>
<line x1="343.90" y1="629.50" x2="343.90" y2="633.70" stroke="#141213" stroke-width="1.1" stroke-linecap="butt"/>
<text transform="translate(343.90,645.40) scale(1.115,1)" x="0" y="0" font-size="9.5" text-anchor="middle" fill="#141213" stroke="#141213" stroke-width="0.1">380</text>
<text x="256.00" y="663.50" font-size="12.0" text-anchor="middle" fill="#141213" stroke="#141213" stroke-width="0.3" textLength="69.8" lengthAdjust="spacingAndGlyphs">Injury radius (μm)</text>
<text transform="translate(139.60,556.80) rotate(-90)" x="0" y="0" font-size="12.0" text-anchor="middle" fill="#141213" stroke="#141213" stroke-width="0.25" textLength="82.5" lengthAdjust="spacingAndGlyphs">Shear rate (<tspan font-size="14">×</tspan>10<tspan dy="-4.6" font-size="9">4</tspan><tspan dy="4.6"> s</tspan><tspan dy="-4.6" font-size="9">−1</tspan><tspan dy="4.6">)</tspan></text>
<circle cx="163.10" cy="629.50" r="3.0" fill="#c8102e"/>
<circle cx="168.10" cy="600.70" r="3.0" fill="#c8102e"/>
<circle cx="172.90" cy="563.30" r="3.0" fill="#c8102e"/>
<circle cx="177.60" cy="534.30" r="3.0" fill="#c8102e"/>
<circle cx="182.40" cy="525.70" r="3.0" fill="#c8102e"/>
<circle cx="210.40" cy="524.70" r="3.0" fill="#c8102e"/>
<circle cx="234.90" cy="531.90" r="3.0" fill="#c8102e"/>
<circle cx="257.80" cy="546.60" r="3.0" fill="#c8102e"/>
<circle cx="282.00" cy="555.80" r="3.0" fill="#c8102e"/>
<circle cx="305.80" cy="560.00" r="3.0" fill="#c8102e"/>
<circle cx="329.30" cy="560.70" r="3.0" fill="#c8102e"/>
<line x1="351.10" y1="458.40" x2="363.80" y2="458.40" stroke="#0d4882" stroke-width="1.85" stroke-linecap="butt"/>
<circle cx="357.30" cy="470.40" r="3.0" fill="#c8102e"/>
<text x="368.70" y="462.30" font-size="9.2" text-anchor="start" fill="#141213" font-weight="normal" stroke="#141213" stroke-width="0.25">Vessel resistance</text>
<text x="368.70" y="474.30" font-size="9.2" text-anchor="start" fill="#141213" font-weight="normal" stroke="#141213" stroke-width="0.25">Simulation data</text>
<g transform="translate(174.80,483.00) rotate(-22.28)"><rect x="0" y="-4.7" width="48.52" height="9.4" fill="#dcc6e1"/><ellipse cx="48.52" cy="0" rx="2.2" ry="4.7" fill="#dcc6e1" stroke="#c7a7d1" stroke-width="0.7"/><ellipse cx="0" cy="0" rx="2.2" ry="4.7" fill="#dcc6e1" stroke="#c7a7d1" stroke-width="0.9"/><line x1="0" y1="-4.3" x2="48.52" y2="-4.3" stroke="#c7a7d1" stroke-width="0.8"/><line x1="0" y1="4.3" x2="48.52" y2="4.3" stroke="#c7a7d1" stroke-width="0.8"/><line x1="0" y1="-1.57" x2="48.52" y2="-1.57" stroke="#c7a7d1" stroke-width="0.7"/><line x1="0" y1="1.57" x2="48.52" y2="1.57" stroke="#c7a7d1" stroke-width="0.7"/></g>
<line x1="166.00" y1="487.20" x2="178.30" y2="482.60" stroke="#000" stroke-width="2.2" stroke-linecap="round"/>
<line x1="221.00" y1="464.30" x2="228.00" y2="461.50" stroke="#000" stroke-width="2.2" stroke-linecap="butt"/>
<path d="M233.60,459.00 L228.27,464.50 L225.95,458.75 Z" fill="#000"/>
<line x1="197.30" y1="471.20" x2="197.30" y2="460.50" stroke="#000" stroke-width="1.5" stroke-linecap="butt"/>
<path d="M197.30,456.00 L200.30,461.80 L194.30,461.80 Z" fill="#000"/>
<path d="M190.0,460.2 L205.0,464.6 M190.0,464.6 L205.0,460.2" stroke="#d63a52" stroke-width="0.9" fill="none"/>
<g transform="translate(270.80,481.60) rotate(-23.30)"><rect x="0" y="-4.6" width="43.99" height="9.2" fill="#d9cbe3"/><ellipse cx="43.99" cy="0" rx="2.2" ry="4.6" fill="#d9cbe3" stroke="#c2afd4" stroke-width="0.7"/><ellipse cx="0" cy="0" rx="2.2" ry="4.6" fill="#d9cbe3" stroke="#c2afd4" stroke-width="0.9"/><line x1="0" y1="-4.199999999999999" x2="43.99" y2="-4.199999999999999" stroke="#c2afd4" stroke-width="0.8"/><line x1="0" y1="4.199999999999999" x2="43.99" y2="4.199999999999999" stroke="#c2afd4" stroke-width="0.8"/><line x1="0" y1="-1.53" x2="43.99" y2="-1.53" stroke="#c2afd4" stroke-width="0.7"/><line x1="0" y1="1.53" x2="43.99" y2="1.53" stroke="#c2afd4" stroke-width="0.7"/></g>
<line x1="258.60" y1="487.40" x2="271.60" y2="482.40" stroke="#000" stroke-width="2.2" stroke-linecap="round"/>
<line x1="314.00" y1="464.10" x2="321.50" y2="461.20" stroke="#000" stroke-width="2.2" stroke-linecap="butt"/>
<path d="M327.20,459.00 L320.79,464.79 L318.57,458.68 Z" fill="#000"/>
<path d="M288.0,472.5 Q288.0,473.8 290.6,473.8 Q293.2,473.8 293.2,472.5 L293.2,463.5 L295.8,463.5 L290.6,455.6 L285.4,463.5 L288.0,463.5 Z" fill="#000"/>
<path d="M313.5,456.7 L327.6,465.5 M313.5,461.5 L328.3,458.2" stroke="#d63a52" stroke-width="0.9" fill="none"/>
<rect x="0" y="0" width="1.25" height="673" fill="#000"/>
<rect x="0" y="0" width="520" height="1.35" fill="#000"/>
<rect x="518.1" y="0" width="1.9" height="673" fill="#000"/>
<rect x="0" y="671.1" width="520" height="1.9" fill="#000"/>
</svg></body></html>
